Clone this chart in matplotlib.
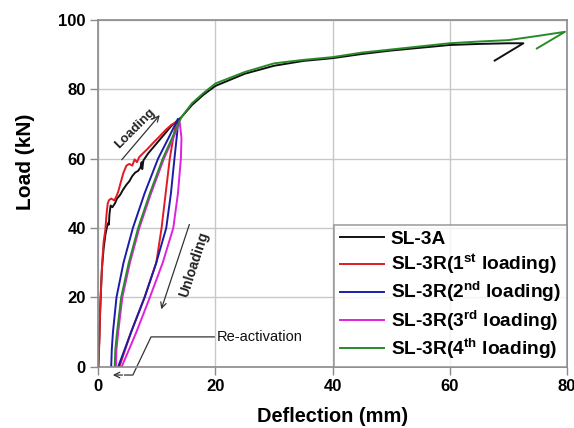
import numpy as np
import matplotlib
matplotlib.use('Agg')
import matplotlib.pyplot as plt

plt.rcParams['font.family'] = ['Liberation Sans', 'DejaVu Sans']
plt.rcParams['mathtext.fontset'] = 'custom'
plt.rcParams['mathtext.rm'] = 'Liberation Sans'
plt.rcParams['mathtext.bf'] = 'Liberation Sans:bold'

# SL-3A: monotonic test to failure
sl3a_x = [0, 0.2, 0.4, 0.6, 0.9, 1.2, 1.5, 1.7, 1.8, 1.9, 2.1, 2.4, 2.8, 3.2, 3.7, 4.2, 4.8,
          5.3, 5.8, 6.3, 6.8, 7.2, 7.4, 7.5, 7.7, 8.5, 9.5, 10.5, 11.5, 12.5, 13.5, 14.2,
          16, 18, 20, 25, 30, 35, 40, 45, 50, 55, 60, 65, 70, 72.6, 67.7]
sl3a_y = [0, 10, 20, 28, 34, 38, 40.5, 41.5, 41, 44, 46.5, 46, 47, 48.5, 49.5, 51, 52.5,
          53.5, 55, 56, 56.5, 57.5, 59, 57, 59.5, 61.5, 63.5, 65.5, 67.5, 69.5, 71, 72,
          75.5, 78.5, 81, 84.5, 86.8, 88.2, 89, 90.2, 91.2, 92, 92.8, 93.1, 93.3, 93.3, 88.3]

# SL-3R, 1st loading (loading + unloading)
r1_x = [0, 0.2, 0.3, 0.5, 0.7, 0.9, 1.2, 1.4, 1.6, 1.8, 2.2, 2.7, 3.0, 3.4, 3.8, 4.3,
        4.8, 5.3, 5.8, 6.2, 6.6, 7.0, 7.6, 8.5, 9.5, 10.5, 11.5, 12.5, 13.3,
        12.8, 12.2, 11.5, 10.8, 9.9, 7.9, 5.6, 3.6]
r1_y = [0, 8, 16, 24, 31, 36, 39.5, 44, 47, 48, 48.5, 48, 48.8, 50.5, 53, 56,
        58, 58.5, 58, 59.8, 59, 60.5, 61.5, 63, 64.8, 66.5, 68.3, 69.8, 70.5,
        66, 60, 50, 40, 30, 20, 10, 0]

# 2nd loading
r2_x = [2.2, 2.3, 2.5, 3.1, 4.3, 5.9, 7.9, 10.2, 12.0, 13.6,
        13.5, 13.0, 12.4, 11.6, 9.9, 7.9, 5.6, 3.4]
r2_y = [0, 5, 10, 20, 30, 40, 50, 60, 66, 71.5,
        68, 60, 50, 40, 30, 20, 10, 0]

# 3rd loading
r3_x = [3.0, 3.1, 3.4, 4.1, 5.4, 7.0, 9.0, 11.2, 12.8, 13.9,
        14.2, 14.1, 13.6, 12.8, 11.0, 8.8, 6.5, 4.0]
r3_y = [0, 5, 10, 20, 30, 40, 50, 60, 66, 70.5,
        66, 60, 50, 40, 30, 20, 10, 0]

# 4th loading, continued to failure
r4_x = [2.8, 2.9, 3.2, 3.9, 5.2, 6.8, 8.8, 11.0, 12.6, 14.2,
        16, 18, 20, 25, 30, 35, 40, 45, 50, 55, 60, 65, 70, 75, 79.7, 74.9]
r4_y = [0, 5, 10, 20, 30, 40, 50, 60, 66, 72,
        76, 79, 81.7, 85, 87.5, 88.5, 89.3, 90.6, 91.5, 92.4, 93.3, 93.8, 94.2, 95.4, 96.6, 91.8]

labels = ['SL-3A',
          r'SL-3R(1$^{\mathbf{st}}$ loading)',
          r'SL-3R(2$^{\mathbf{nd}}$ loading)',
          r'SL-3R(3$^{\mathbf{rd}}$ loading)',
          r'SL-3R(4$^{\mathbf{th}}$ loading)']
colors = ['#111111', '#e01b24', '#1c1ca8', '#e020e0', '#2a8a2a']

fig = plt.figure(figsize=(5.74, 4.28), dpi=100)
ax = fig.add_axes([0.1713, 0.1432, 0.8160, 0.8100])

series = [(sl3a_x, sl3a_y), (r1_x, r1_y), (r2_x, r2_y), (r3_x, r3_y), (r4_x, r4_y)]
for (xs, ys), lab, c in zip(series, labels, colors):
    ax.plot(xs, ys, color=c, lw=1.4, label=lab)

ax.set_xlim(0, 80)
ax.set_ylim(0, 100)
ax.set_xticks([0, 20, 40, 60, 80])
ax.set_yticks([0, 20, 40, 60, 80, 100])
ax.grid(True, color='#c8c8c8', lw=1.0)
ax.set_axisbelow(True)
for sp in ax.spines.values():
    sp.set_color('#8a8a8a')
    sp.set_linewidth(1.2)
ax.tick_params(direction='out', length=6, width=1.0, color='#8a8a8a', labelsize=12, pad=3)
for t in ax.get_xticklabels() + ax.get_yticklabels():
    t.set_fontweight('bold')

ax.set_xlabel('Deflection (mm)', fontsize=14.4, fontweight='bold')
ax.xaxis.set_label_coords(0.5, -0.115)
ax.set_ylabel('Load (kN)', fontsize=15, fontweight='bold')
ax.yaxis.set_label_coords(-0.135, 0.59)

leg = ax.legend(loc='lower right', borderaxespad=0, fancybox=False, handlelength=2.3,
                labelspacing=0.18, prop={'weight': 'bold', 'size': 13.8}, borderpad=0.3,
                handletextpad=0.35)
leg.get_frame().set_edgecolor('#8a8a8a')
leg.get_frame().set_linewidth(1.2)

# loading / unloading arrows
ax.annotate('', xy=(10.8, 73.2), xytext=(3.7, 59.1),
            arrowprops=dict(arrowstyle='->', color='#333333', lw=0.9))
ax.text(6.3, 68.8, 'Loading', rotation=45, fontsize=9.5, fontweight='bold',
        ha='center', va='center', color='#222222')
ax.annotate('', xy=(10.6, 15.8), xytext=(15.7, 41.8),
            arrowprops=dict(arrowstyle='->', color='#333333', lw=0.9))
ax.text(16.4, 29.5, 'Unloading', rotation=72, fontsize=10, fontweight='bold',
        ha='center', va='center', color='#222222')

# re-activation leader
ax.plot([19.8, 9.0, 5.9, 4.5], [8.6, 8.6, -2.4, -2.4], color='#333333', lw=0.9,
        clip_on=False)
ax.annotate('', xy=(2.0, -2.4), xytext=(4.6, -2.4), annotation_clip=False,
            arrowprops=dict(arrowstyle='->', color='#333333', lw=0.9))
ax.text(20.3, 8.6, 'Re-activation', fontsize=10.5, ha='left', va='center',
        color='#111111')

fig.savefig('out.png', dpi=100)
